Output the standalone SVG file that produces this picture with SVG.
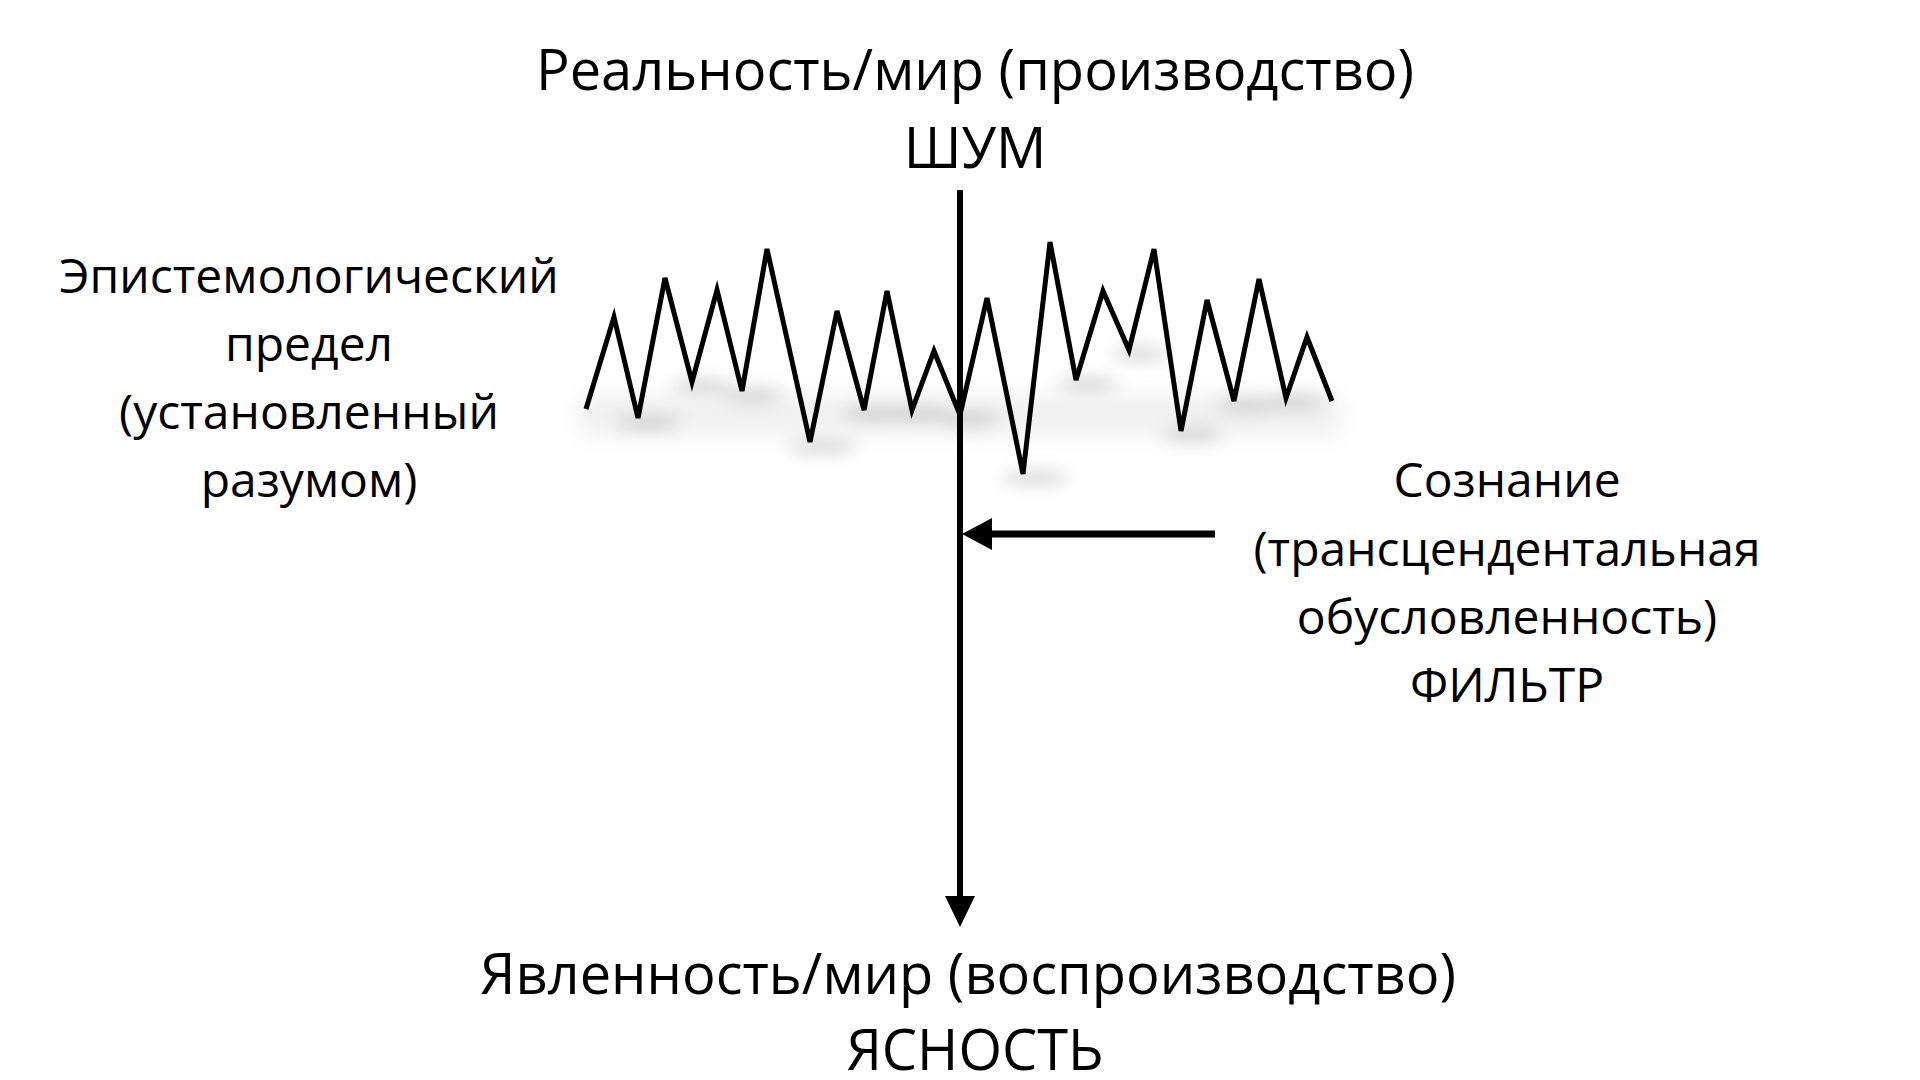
<svg xmlns="http://www.w3.org/2000/svg" width="1920" height="1080" viewBox="0 0 1920 1080">
<defs>
<style>
.t{font-family:"Open Sans","Noto Sans","DejaVu Sans",sans-serif;fill:#000;text-anchor:middle}
.big{font-size:56px}
.mid{font-size:48px}
.zig{fill:none;stroke:#000;stroke-width:5;stroke-linejoin:miter;stroke-linecap:butt}
.sh{fill:#a8a8a8;opacity:0.45;filter:url(#blur)}
</style>
<filter id="blur" x="-50%" y="-200%" width="200%" height="500%"><feGaussianBlur stdDeviation="8"/></filter>
<filter id="blur2" x="-20%" y="-100%" width="140%" height="300%"><feGaussianBlur stdDeviation="12"/></filter>
</defs>
<rect width="1920" height="1080" fill="#fff"/>
<g id="noise">
<rect x="580" y="395" width="760" height="40" fill="#efefef" filter="url(#blur2)"/>
<ellipse class="sh" cx="648" cy="423" rx="32" ry="7"/>
<ellipse class="sh" cx="702" cy="386" rx="30" ry="7"/>
<ellipse class="sh" cx="752" cy="395" rx="30" ry="7"/>
<ellipse class="sh" cx="822" cy="447" rx="34" ry="7"/>
<ellipse class="sh" cx="874" cy="414" rx="30" ry="7"/>
<ellipse class="sh" cx="922" cy="414" rx="28" ry="7"/>
<ellipse class="sh" cx="970" cy="419" rx="28" ry="7"/>
<ellipse class="sh" cx="1035" cy="478" rx="34" ry="7"/>
<ellipse class="sh" cx="1088" cy="384" rx="30" ry="7"/>
<ellipse class="sh" cx="1140" cy="354" rx="28" ry="7"/>
<ellipse class="sh" cx="1192" cy="435" rx="30" ry="7"/>
<ellipse class="sh" cx="1246" cy="405" rx="30" ry="7"/>
<ellipse class="sh" cx="1296" cy="402" rx="28" ry="7"/>
<polyline class="zig" points="586,409 614,317 638,418 665,278 692,382 717,290 742,391 767,249 810,442 837,311 864,410 887,291 912,410 934,351 960,415 987,298 1023,474 1050,242 1076,380 1103,291 1129,350 1154,249 1181,431 1207,300 1234,401 1259,279 1286,398 1307,337 1332,401"/>
</g>
<g id="connectors">
<line x1="960" y1="190" x2="960" y2="900" stroke="#000" stroke-width="6"/>
<polygon points="945,896 975,896 960,927" fill="#000"/>
<line x1="990" y1="534" x2="1215" y2="534" stroke="#000" stroke-width="7"/>
<polygon points="962,534 992,518 992,550" fill="#000"/>
</g>
<g id="top-label">
<text class="t big" x="975" y="90">Реальность/мир (производство)</text>
<text class="t big" x="975" y="168">ШУМ</text>
</g>
<g id="left-label">
<text class="t mid" x="309" y="293">Эпистемологический</text>
<text class="t mid" x="309" y="361">предел</text>
<text class="t mid" x="309" y="429">(установленный</text>
<text class="t mid" x="309" y="497">разумом)</text>
</g>
<g id="right-label">
<text class="t mid" x="1507" y="497">Сознание</text>
<text class="t mid" x="1507" y="566">(трансцендентальная</text>
<text class="t mid" x="1507" y="634">обусловленность)</text>
<text class="t mid" x="1507" y="702">ФИЛЬТР</text>
</g>
<g id="bottom-label">
<text class="t big" x="968" y="994">Явленность/мир (воспроизводство)</text>
<text class="t big" x="975" y="1070">ЯСНОСТЬ</text>
</g>
</svg>
